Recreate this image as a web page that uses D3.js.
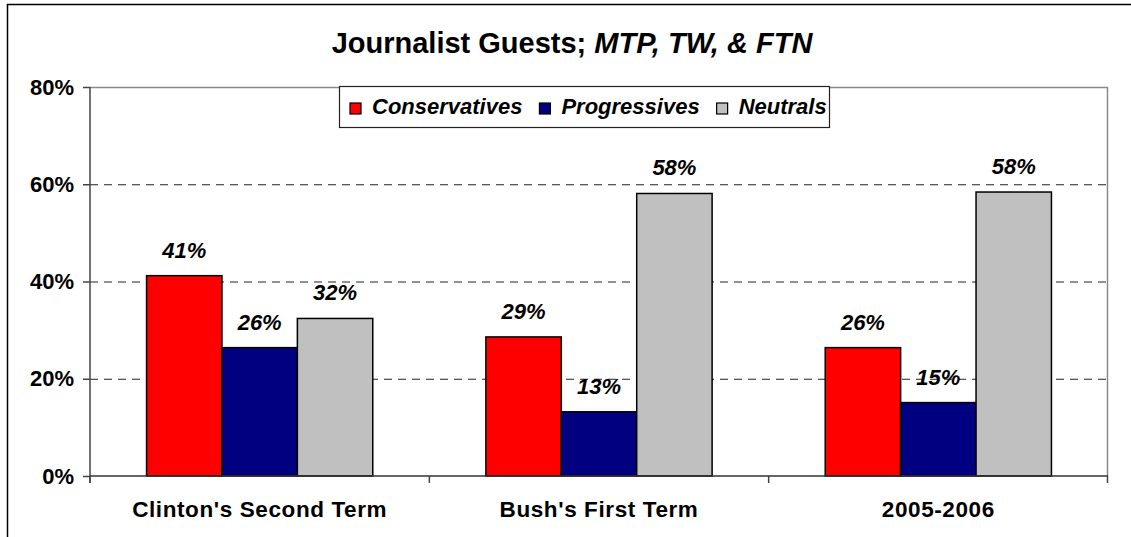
<!DOCTYPE html>
<html>
<head>
<meta charset="utf-8">
<script src="https://cdn.jsdelivr.net/npm/d3@7"></script>
<style>
  html, body { margin: 0; padding: 0; background: #fff; }
  svg { display: block; font-family: "Liberation Sans", Arial, sans-serif; }
</style>
</head>
<body>
<svg id="chart" width="1131" height="537"></svg>
<script>
const categories = ["Clinton's Second Term", "Bush's First Term", "2005-2006"];
const seriesNames = ["Conservatives", "Progressives", "Neutrals"];
const conservatives = [0.412, 0.286, 0.264];
const progressives = [0.264, 0.132, 0.151];
const neutrals = [0.324, 0.581, 0.584];
const yTicks = [0, 0.2, 0.4, 0.6, 0.8];
const colors = ["#FF0000", "#000080", "#C0C0C0"];

const seriesValues = [conservatives, progressives, neutrals];
const data = categories.map((c, i) => ({
  category: c,
  values: seriesNames.map((s, j) => ({ series: s, value: seriesValues[j][i], color: colors[j] }))
}));

const svg = d3.select("#chart");
const plot = { left: 90, right: 1108, top: 87, bottom: 476 };

// outer frame
svg.append("rect").attr("x", 7.5).attr("y", 4.5).attr("width", 1200).attr("height", 600)
  .attr("fill", "none").attr("stroke", "#000").attr("stroke-width", 1.5);

const x0 = d3.scaleBand().domain(categories).range([plot.left, plot.right]).paddingInner(0).paddingOuter(0);
const x1 = d3.scaleBand().domain(seriesNames).range([0, x0.bandwidth()]).paddingInner(0).paddingOuter(0.75);
const y = d3.scaleLinear().domain([0, 0.8]).range([plot.bottom, plot.top]);
const fmt = d3.format(".0%");

// gridlines
svg.append("g").selectAll("line").data(yTicks.filter(t => t > 0 && t < 0.8)).join("line")
  .attr("x1", plot.left).attr("x2", plot.right)
  .attr("y1", d => y(d) + 0.5).attr("y2", d => y(d) + 0.5)
  .attr("stroke", "#222").attr("stroke-width", 1).attr("stroke-dasharray", "8,6");

// plot border top & right
svg.append("path")
  .attr("d", `M${plot.left},${plot.top + 0.5}H${plot.right - 0.5}V${plot.bottom}`)
  .attr("fill", "none").attr("stroke", "#8a8a8a").attr("stroke-width", 1.5);

// y axis
const yAxis = svg.append("g").attr("transform", `translate(${plot.left},0)`)
  .call(d3.axisLeft(y).tickValues(yTicks).tickFormat(fmt).tickSize(7).tickPadding(9));
yAxis.select(".domain").remove();
yAxis.selectAll(".tick line").attr("stroke", "#444").attr("stroke-width", 1.5);
yAxis.selectAll(".tick text").attr("font-size", 22).attr("font-weight", "bold").attr("fill", "#000")
  .attr("font-family", '"Liberation Sans", Arial, sans-serif');
svg.append("line").attr("x1", plot.left).attr("x2", plot.left).attr("y1", plot.top).attr("y2", plot.bottom + 7)
  .attr("stroke", "#444").attr("stroke-width", 1.5);

// bars
const groups = svg.append("g").selectAll("g").data(data).join("g")
  .attr("transform", d => `translate(${x0(d.category)},0)`);
groups.selectAll("rect").data(d => d.values).join("rect")
  .attr("x", d => x1(d.series))
  .attr("y", d => y(d.value))
  .attr("width", x1.bandwidth())
  .attr("height", d => y(0) - y(d.value))
  .attr("fill", d => d.color)
  .attr("stroke", "#000").attr("stroke-width", 1.5);
groups.selectAll("text").data(d => d.values).join("text")
  .attr("x", d => x1(d.series) + x1.bandwidth() / 2)
  .attr("y", d => y(d.value) - 18)
  .attr("text-anchor", "middle")
  .attr("font-size", 22).attr("font-weight", "bold").attr("font-style", "italic")
  .text(d => fmt(d.value));

// x axis
svg.append("line").attr("x1", plot.left).attr("x2", plot.right).attr("y1", plot.bottom).attr("y2", plot.bottom)
  .attr("stroke", "#333").attr("stroke-width", 1.5);
const boundaries = categories.map(c => x0(c)).concat([plot.right - 0.5]);
svg.append("g").selectAll("line").data(boundaries).join("line")
  .attr("x1", d => d).attr("x2", d => d).attr("y1", plot.bottom).attr("y2", plot.bottom + 7)
  .attr("stroke", "#444").attr("stroke-width", 1.5);
svg.append("g").selectAll("text").data(categories).join("text")
  .attr("x", d => x0(d) + x0.bandwidth() / 2)
  .attr("y", 516.5)
  .attr("text-anchor", "middle")
  .attr("font-size", 22.5).attr("font-weight", "bold").attr("letter-spacing", 0.6)
  .text(d => d);

// title
const title = svg.append("text").attr("x", 572).attr("y", 53).attr("text-anchor", "middle")
  .attr("font-size", 29).attr("font-weight", "bold");
title.append("tspan").text("Journalist Guests; ");
title.append("tspan").attr("font-style", "italic").text("MTP, TW, & FTN");

// legend
const legend = svg.append("g");
legend.append("rect").attr("x", 339.5).attr("y", 86.5).attr("width", 490).attr("height", 41)
  .attr("fill", "#fff").attr("stroke", "#222").attr("stroke-width", 1.2);
let lx = 350;
seriesNames.forEach((s, i) => {
  legend.append("rect").attr("x", lx).attr("y", 103).attr("width", 11).attr("height", 11)
    .attr("fill", colors[i]).attr("stroke", "#000").attr("stroke-width", 1.2);
  const t = legend.append("text").attr("x", lx + 22).attr("y", 114)
    .attr("font-size", 22).attr("font-weight", "bold").attr("font-style", "italic").text(s);
  lx = lx + 22 + t.node().getComputedTextLength() + 17;
});
</script>
</body>
</html>
